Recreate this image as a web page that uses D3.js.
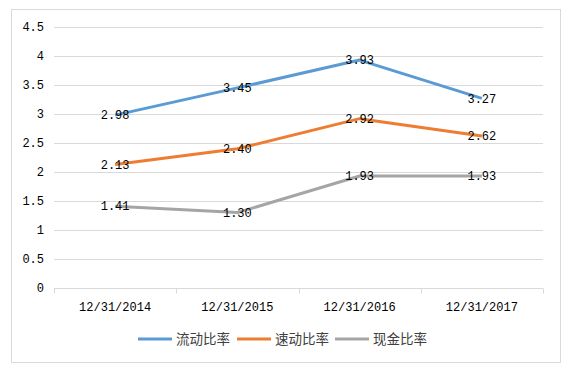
<!doctype html>
<html>
<head>
  <meta charset="UTF-8">
  <title>ratios</title>
  <script src="https://cdn.jsdelivr.net/npm/d3@7"></script>
  <style>
    body { margin: 0; background: #fff; }
    text { font-family: "Liberation Mono", "DejaVu Sans Mono", monospace; font-size: 12px; fill: #000; }
    .legend text { font-family: "Noto Sans CJK SC", sans-serif; font-size: 13.5px; fill: #404040; }
  </style>
</head>
<body>
<div id="chart"></div>
<script>
  // data
  var categories = ["12/31/2014", "12/31/2015", "12/31/2016", "12/31/2017"];
  var seriesNames = ["流动比率", "速动比率", "现金比率"];
  var currentRatio = [2.98, 3.45, 3.93, 3.27];
  var quickRatio = [2.13, 2.40, 2.92, 2.62];
  var cashRatio = [1.41, 1.30, 1.93, 1.93];
  var yTicks = [0, 0.5, 1, 1.5, 2, 2.5, 3, 3.5, 4, 4.5];
  var colors = ["#5B9BD5", "#ED7D31", "#A5A5A5"];

  var w = 573, h = 374;
  var series = [currentRatio, quickRatio, cashRatio];

  var svg = d3.select("#chart").append("svg")
    .attr("width", w)
    .attr("height", h);

  // outer frame
  svg.append("rect")
    .attr("x", 11.5).attr("y", 9.5)
    .attr("width", 549).attr("height", 353)
    .attr("fill", "#fff")
    .attr("stroke", "#D9D9D9")
    .attr("stroke-width", 1);

  var x = d3.scaleBand().domain(categories).range([54, 543]);
  var y = d3.scaleLinear().domain([0, 4.5]).range([288, 27]);

  // gridlines
  svg.selectAll(".grid")
    .data(yTicks.filter(function(d) { return d > 0; }))
    .enter().append("line")
    .attr("x1", 54).attr("x2", 543)
    .attr("y1", function(d) { return Math.round(y(d)) + 0.5; })
    .attr("y2", function(d) { return Math.round(y(d)) + 0.5; })
    .attr("stroke", "#D9D9D9")
    .attr("stroke-width", 1);

  // y labels
  svg.selectAll(".ylab")
    .data(yTicks)
    .enter().append("text")
    .attr("x", 44)
    .attr("y", function(d) { return y(d); })
    .attr("dy", "0.35em")
    .attr("text-anchor", "end")
    .text(function(d) { return d; });

  // x axis
  var xAxis = svg.append("g").attr("transform", "translate(0," + (Math.round(y(0)) + 0.5) + ")");
  xAxis.append("line").attr("x1", 54).attr("x2", 543).attr("stroke", "#D9D9D9");
  var edges = categories.map(function(c) { return x(c); }).concat([x.range()[1]]);
  xAxis.selectAll(".tick")
    .data(edges)
    .enter().append("line")
    .attr("x1", function(d) { return Math.round(d) + 0.5; })
    .attr("x2", function(d) { return Math.round(d) + 0.5; })
    .attr("y1", 0).attr("y2", 5)
    .attr("stroke", "#D9D9D9");
  xAxis.selectAll(".xlab")
    .data(categories)
    .enter().append("text")
    .attr("x", function(d) { return x(d) + x.bandwidth() / 2; })
    .attr("y", 18)
    .attr("dy", "0.35em")
    .attr("text-anchor", "middle")
    .text(function(d) { return d; });

  var line = d3.line()
    .x(function(d, i) { return x(categories[i]) + x.bandwidth() / 2; })
    .y(function(d) { return y(d); });

  series.forEach(function(s, k) {
    svg.append("path")
      .attr("d", line(s))
      .attr("fill", "none")
      .attr("stroke", colors[k])
      .attr("stroke-width", 3)
      .attr("stroke-linejoin", "round");
  });

  // data labels centred on points
  series.forEach(function(s, k) {
    svg.selectAll(".dl" + k)
      .data(s)
      .enter().append("text")
      .attr("x", function(d, i) { return x(categories[i]) + x.bandwidth() / 2; })
      .attr("y", function(d) { return y(d); })
      .attr("dy", "0.35em")
      .attr("text-anchor", "middle")
      .text(function(d) { return d.toFixed(2); });
  });

  // legend
  var legend = svg.append("g").attr("class", "legend");
  var lx = [138, 237, 335];
  seriesNames.forEach(function(n, k) {
    legend.append("line")
      .attr("x1", lx[k]).attr("x2", lx[k] + 34)
      .attr("y1", 339).attr("y2", 339)
      .attr("stroke", colors[k])
      .attr("stroke-width", 3);
    legend.append("text")
      .attr("x", lx[k] + 38)
      .attr("y", 339)
      .attr("dy", "0.35em")
      .text(n);
  });
</script>
</body>
</html>
